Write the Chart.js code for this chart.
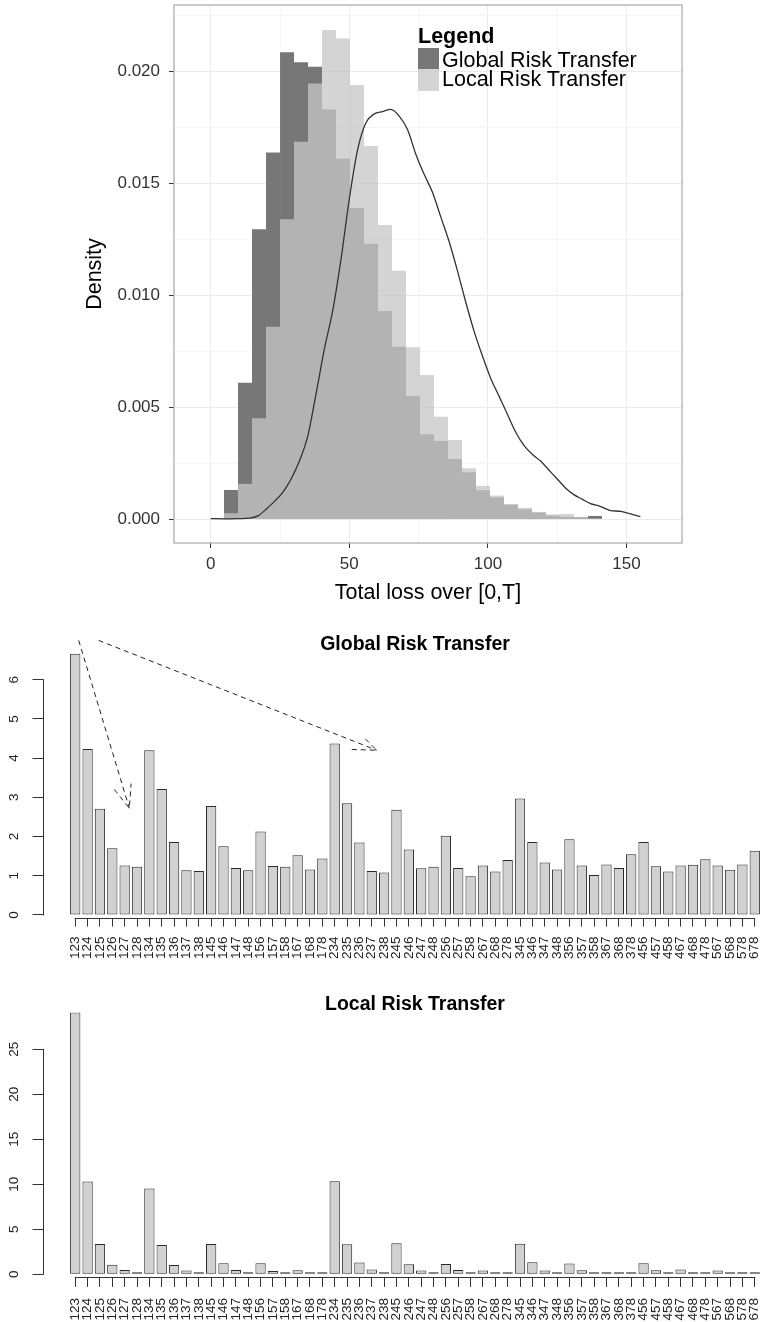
<!DOCTYPE html>
<html lang="en">
<head>
<meta charset="UTF-8">
<title>Global vs Local Risk Transfer</title>
<script src="https://cdn.jsdelivr.net/npm/chart.js"></script>
<style>
  html, body { margin: 0; padding: 0; background: #fff; overflow: hidden; }
  #page { position: relative; width: 762px; height: 1322px; overflow: hidden; }
  canvas { position: absolute; left: 0; }
  #lossChart { top: 0; }
  #globalChart { top: 612px; }
  #localChart { top: 982px; }
  .lg { position: absolute; font-family: 'Liberation Sans', Arial, sans-serif; font-size: 21.5px; line-height: 1; color: #000; white-space: nowrap; }
  .key { position: absolute; left: 418px; width: 21px; }
</style>
</head>
<body>
<div id="page">
  <canvas id="lossChart" width="762" height="612"></canvas>
  <canvas id="globalChart" width="830" height="370"></canvas>
  <canvas id="localChart" width="830" height="340"></canvas>

  <!-- legend of the top panel -->
  <div class="lg" style="left:418px; top:25.5px; font-weight:bold;">Legend</div>
  <div class="key" style="top:48.3px; height:20.7px; background:#777777;"></div>
  <div class="key" style="top:69px; height:21.7px; background:rgba(198,198,198,0.76);"></div>
  <div class="lg" style="left:442px; top:50.1px;">Global Risk Transfer</div>
  <div class="lg" style="left:442px; top:69.1px;">Local Risk Transfer</div>
</div>

<script>
    // ---- top panel: histogram of total loss (density) ----
    const binMids = [7.33, 12.38, 17.43, 22.48, 27.53, 32.58, 37.63, 42.68, 47.73, 52.78,
        57.83, 62.88, 67.93, 72.98, 78.03, 83.08, 88.13, 93.18, 98.23, 103.28,
        108.33, 113.38, 118.43, 123.48, 128.53, 133.58, 138.63];
    const globalDens = [0.00131, 0.0061, 0.01295, 0.01637, 0.02085, 0.0204, 0.0202, 0.0183, 0.0161, 0.0139,
        0.0123, 0.0093, 0.0077, 0.0055, 0.0038, 0.0035, 0.0027, 0.0021, 0.0013, 0.00098,
        0.00065, 0.00045, 0.0003, 0.00016, 0.00011, 0.00009, 0.00015];
    const localDens = [0.00027, 0.00158, 0.00451, 0.0086, 0.01339, 0.01686, 0.01946, 0.02184, 0.02147, 0.01939,
        0.01667, 0.01314, 0.0111, 0.00768, 0.00644, 0.00458, 0.00354, 0.00228, 0.00149, 0.00106,
        0.00068, 0.00051, 0.00033, 0.00022, 0.00024, 0.00009, 0.00002];

    // density curve
    const curveX = [0, 5, 10, 14, 17, 20, 23, 26, 29, 32, 35, 38, 41, 44, 47, 50, 53, 56, 59, 62,
        65, 68, 71, 74, 77, 80, 83, 86, 89, 92, 95, 98, 101, 104, 107, 110, 113, 116, 119, 122,
        125, 128, 131, 134, 137, 140, 144, 148, 152, 155];
    const curveY = [0.00003, 0.00002, 0.00003, 0.00005, 0.00015, 0.00045, 0.0008, 0.0012, 0.0018, 0.0026,
        0.0037, 0.0056, 0.0076, 0.0093, 0.0116, 0.0143, 0.0165, 0.0177, 0.0181, 0.0182,
        0.0183, 0.0180, 0.0174, 0.0163, 0.0154, 0.0146, 0.0135, 0.0124, 0.0111, 0.0097,
        0.0084, 0.0073, 0.0063, 0.0055, 0.0047, 0.0039, 0.0033, 0.0029, 0.0026, 0.0022,
        0.0018, 0.0014, 0.0011, 0.0009, 0.0007, 0.0006, 0.0004, 0.00035, 0.00022, 0.00012];

    // ---- bottom panels: one bar per combination ----
    const combos = ['123', '124', '125', '126', '127', '128', '134', '135', '136', '137', '138',
        '145', '146', '147', '148', '156', '157', '158', '167', '168', '178',
        '234', '235', '236', '237', '238', '245', '246', '247', '248', '256', '257', '258',
        '267', '268', '278', '345', '346', '347', '348', '356', '357', '358', '367', '368', '378',
        '456', '457', '458', '467', '468', '478', '567', '568', '578', '678'];
    const globalRatio = [6.66, 4.23, 2.71, 1.70, 1.26, 1.23, 4.20, 3.21, 1.86, 1.14, 1.12,
        2.78, 1.75, 1.20, 1.14, 2.13, 1.25, 1.23, 1.52, 1.16, 1.44,
        4.37, 2.85, 1.85, 1.12, 1.08, 2.68, 1.67, 1.19, 1.23, 2.02, 1.20, 0.99,
        1.26, 1.11, 1.40, 2.97, 1.86, 1.34, 1.16, 1.93, 1.26, 1.02, 1.29, 1.20, 1.55,
        1.86, 1.24, 1.11, 1.26, 1.28, 1.42, 1.26, 1.15, 1.29, 1.64];
    const localRatio = [29.1, 10.3, 3.37, 1.07, 0.48, 0.11, 9.52, 3.26, 1.04, 0.41, 0.11,
        3.37, 1.22, 0.48, 0.19, 1.22, 0.37, 0.22, 0.44, 0.11, 0.11,
        10.33, 3.33, 1.30, 0.52, 0.19, 3.44, 1.11, 0.41, 0.19, 1.15, 0.48, 0.07,
        0.41, 0.15, 0.07, 3.40, 1.33, 0.41, 0.15, 1.19, 0.44, 0.19, 0.22, 0.07, 0.11,
        1.22, 0.44, 0.15, 0.52, 0.11, 0.19, 0.41, 0.07, 0.07, 0.07];

    // dashed arrows over the Global panel (bar index, value); null splits shaft from head
    const arrow1X = [0.28, 4.38, null, 3.16, 4.38, 4.52];
    const arrow1Y = [7.0, 2.72, null, 3.20, 2.72, 3.35];
    const arrow2X = [1.90, 24.4, null, 22.38, 24.4, 23.32];
    const arrow2Y = [7.0, 4.2, null, 4.22, 4.2, 4.54];

    Chart.defaults.font.family = "'Liberation Sans', Arial, Helvetica, sans-serif";
    Chart.defaults.color = '#333';

    const toPoints = (xs, ys) => xs.map((x, i) => ({x: x, y: ys[i]}));
    const isMajor = (v, step) => Math.round(v / step) % 2 === 0;
    // keep the plot area where it is: no extra room for overhanging tick labels
    const noOverhang = sc => { sc.paddingTop = 0; sc.paddingBottom = 0; sc.paddingLeft = 0; sc.paddingRight = 0; };

    // grey frame around the ggplot panel
    const panelBox = {
        id: 'panelBox',
        afterDraw(chart) {
            const {ctx, chartArea: a} = chart;
            ctx.save();
            ctx.strokeStyle = '#a8a8a8';
            ctx.lineWidth = 1.2;
            ctx.strokeRect(a.left, a.top, a.right - a.left, a.bottom - a.top);
            ctx.restore();
        }
    };

    // base-R style axis lines: only between first and last tick
    const baseAxes = {
        id: 'baseAxes',
        afterDraw(chart) {
            const {ctx, chartArea: a, scales} = chart;
            const xt = scales.x.ticks, yt = scales.y.ticks;
            const lx = Math.round(a.left) + 0.5;
            const by = Math.round(a.bottom) + 0.5;
            ctx.save();
            ctx.strokeStyle = '#333';
            ctx.lineWidth = 1;
            ctx.beginPath();
            ctx.moveTo(lx, scales.y.getPixelForValue(yt[0].value) + 0.5);
            ctx.lineTo(lx, scales.y.getPixelForValue(yt[yt.length - 1].value) - 0.5);
            ctx.moveTo(scales.x.getPixelForValue(xt[0].value) - 0.5, by);
            ctx.lineTo(scales.x.getPixelForValue(xt[xt.length - 1].value) + 0.5, by);
            ctx.stroke();
            ctx.restore();
        }
    };

    new Chart(document.getElementById('lossChart'), {
        type: 'bar',
        data: {
            datasets: [
                {
                    type: 'line',
                    label: 'density',
                    data: toPoints(curveX, curveY),
                    borderColor: '#333',
                    borderWidth: 1.3,
                    pointRadius: 0,
                    fill: false,
                    cubicInterpolationMode: 'monotone',
                    order: 0
                },
                {
                    label: 'Local Risk Transfer',
                    data: toPoints(binMids, localDens),
                    backgroundColor: 'rgba(198,198,198,0.76)',
                    borderWidth: 0,
                    inflateAmount: 0,
                    grouped: false,
                    barPercentage: 1,
                    categoryPercentage: 1,
                    order: 1
                },
                {
                    label: 'Global Risk Transfer',
                    data: toPoints(binMids, globalDens),
                    backgroundColor: '#777777',
                    borderWidth: 0,
                    inflateAmount: 0,
                    grouped: false,
                    barPercentage: 1,
                    categoryPercentage: 1,
                    order: 2
                }
            ]
        },
        options: {
            responsive: false,
            animation: false,
            layout: { padding: { left: 70, right: 80, top: 5, bottom: 0 } },
            plugins: {
                legend: { display: false },
                tooltip: { enabled: false }
            },
            scales: {
                x: {
                    type: 'linear',
                    min: -13.24,
                    max: 170.02,
                    offset: false,
                    afterFit: sc => { sc.height = 69; noOverhang(sc); },
                    border: { display: false },
                    grid: {
                        offset: false,
                        tickLength: 5,
                        color: c => (c.tick && isMajor(c.tick.value, 25) ? '#ebebeb' : '#f5f5f5'),
                        tickColor: c => (c.tick && isMajor(c.tick.value, 25) ? '#333' : 'rgba(0,0,0,0)')
                    },
                    ticks: {
                        stepSize: 25,
                        includeBounds: false,
                        padding: 6,
                        font: { size: 17 },
                        color: '#333',
                        callback: v => (isMajor(v, 25) ? String(v) : '')
                    },
                    title: {
                        display: true,
                        text: 'Total loss over [0,T]',
                        color: '#000',
                        font: { size: 21.5 },
                        padding: { top: 0, bottom: 6 }
                    }
                },
                y: {
                    min: -0.001058,
                    max: 0.02296,
                    afterFit: sc => { sc.width = 104; noOverhang(sc); },
                    border: { display: false },
                    grid: {
                        tickLength: 5,
                        color: c => (c.tick && isMajor(c.tick.value, 0.0025) ? '#ebebeb' : '#f5f5f5'),
                        tickColor: c => (c.tick && isMajor(c.tick.value, 0.0025) ? '#333' : 'rgba(0,0,0,0)')
                    },
                    ticks: {
                        stepSize: 0.0025,
                        includeBounds: false,
                        padding: 9,
                        font: { size: 17 },
                        color: '#333',
                        callback: v => (isMajor(v, 0.0025) ? v.toFixed(3) : '')
                    },
                    title: {
                        display: true,
                        text: 'Density',
                        color: '#000',
                        font: { size: 21.5 },
                        padding: { top: 12, bottom: 0 }
                    }
                }
            }
        },
        plugins: [panelBox]
    });

    // bar chart in base-R barplot style; title is centred over the plot region
    function ratioChart(canvasId, titleText, values, yMin, yMax, yStep, s, extra) {
        return new Chart(document.getElementById(canvasId), {
            type: 'bar',
            data: {
                datasets: [{
                    label: titleText,
                    data: values.map((v, i) => ({x: i, y: v})),
                    backgroundColor: '#d1d1d1',
                    borderColor: '#2a2a2a',
                    borderWidth: 1,
                    borderSkipped: false,
                    minBarLength: 2,
                    barPercentage: 1 / 1.2,
                    categoryPercentage: 1,
                    order: 1
                }].concat(extra || [])
            },
            options: {
                responsive: false,
                animation: false,
                layout: { padding: { left: 0, right: 42.5, top: 0, bottom: 0 } },
                plugins: {
                    legend: { display: false },
                    tooltip: { enabled: false },
                    title: {
                        display: true,
                        fullSize: false,
                        text: titleText,
                        color: '#000',
                        font: { size: 19.5, weight: 'bold', lineHeight: 0.8 },
                        padding: { top: s.titleTop, bottom: 0 }
                    }
                },
                scales: {
                    x: {
                        type: 'linear',
                        min: -2.65,
                        max: 57.65,
                        offset: false,
                        afterBuildTicks: sc => {
                            sc.ticks = sc.ticks.filter(t => t.value >= 0 && t.value < combos.length);
                        },
                        afterFit: sc => { sc.height = s.xHeight; noOverhang(sc); },
                        border: { display: false },
                        grid: { offset: false, drawOnChartArea: false, tickLength: s.xTick, color: '#333' },
                        ticks: {
                            stepSize: 1,
                            autoSkip: false,
                            minRotation: 90,
                            maxRotation: 90,
                            padding: s.xPad,
                            font: { size: 13.5 },
                            color: '#222',
                            callback: v => combos[v]
                        }
                    },
                    y: {
                        min: yMin,
                        max: yMax,
                        afterFit: sc => { sc.width = 42.5; noOverhang(sc); },
                        border: { display: false },
                        grid: { drawOnChartArea: false, tickLength: 10, color: '#333' },
                        ticks: {
                            stepSize: yStep,
                            includeBounds: false,
                            minRotation: 90,
                            maxRotation: 90,
                            crossAlign: 'center',
                            padding: s.yPad,
                            font: { size: 13.5 },
                            color: '#222'
                        }
                    }
                }
            },
            plugins: [baseAxes]
        });
    }

    const arrowStyle = {
        type: 'line',
        borderColor: '#222',
        borderWidth: 1,
        borderDash: [5, 4],
        pointRadius: 0,
        fill: false,
        tension: 0,
        clip: false,
        order: 0
    };

    ratioChart('globalChart', 'Global Risk Transfer', globalRatio, -0.067, 6.7, 1,
        { titleTop: 24.6, xHeight: 64.4, xTick: 9, xPad: 10, yPad: 14.5 },
        [
            Object.assign({ label: 'arrow1', data: toPoints(arrow1X, arrow1Y) }, arrowStyle),
            Object.assign({ label: 'arrow2', data: toPoints(arrow2X, arrow2Y) }, arrowStyle)
        ]);

    ratioChart('localChart', 'Local Risk Transfer', localRatio, -0.291, 29.1, 5,
        { titleTop: 14.8, xHeight: 45.1, xTick: 10, xPad: 11, yPad: 10.8 });
</script>
</body>
</html>
